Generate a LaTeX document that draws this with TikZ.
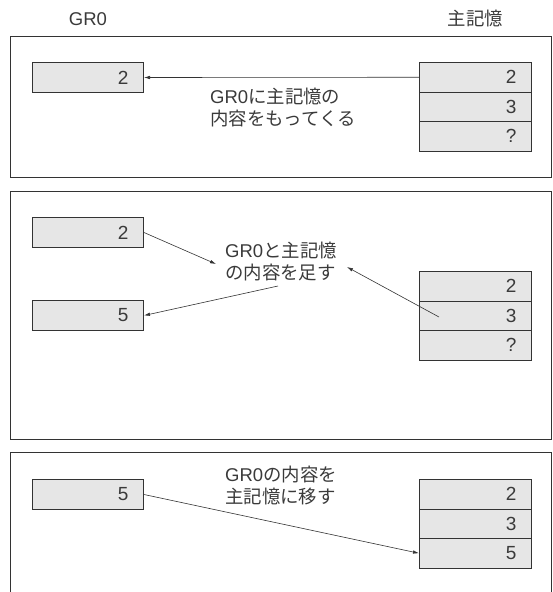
\documentclass[tikz,border=0pt]{standalone}
\usepackage{fontspec}
\setmainfont{Liberation Sans}
\newfontfamily\jpf{Noto Sans CJK JP}
\usetikzlibrary{arrows.meta}
\definecolor{ln}{HTML}{333333}
\definecolor{tx}{HTML}{3A3A3A}
\definecolor{cellfill}{HTML}{E6E6E6}
\newcommand{\latn}[1]{{\rmfamily\fontsize{18.5}{22}\selectfont #1}}
\begin{document}
\begin{tikzpicture}[x=1pt,y=-1pt,
  panel/.style={draw=ln, line width=0.9pt},
  reg/.style={draw=ln, fill=cellfill, line width=1pt, minimum width=111pt,
    minimum height=30pt, inner xsep=15pt, inner ysep=0pt, text width=81pt,
    align=right, anchor=north west, text=tx, font=\rmfamily\fontsize{19}{22}\selectfont},
  mem/.style={reg, minimum width=112pt, minimum height=29.5pt, text width=82pt},
  lbl/.style={text=tx, inner sep=0pt},
  note/.style={text=tx, inner sep=0pt, align=left, anchor=north west,
    font=\jpf\fontsize{18.4}{22}\selectfont},
  arr/.style={draw=ln, line width=0.6pt, -{Latex[length=6pt,width=3.5pt]}}]
\clip (0,0) rectangle (552,592);
% headers
\node[lbl, font=\rmfamily\fontsize{18.5}{22}\selectfont] (hg) at (88,19.5) {GR0};
\node[lbl, font=\jpf\fontsize{18.4}{22}\selectfont] (hm) at (475.5,18) {主記憶};
% panel 1
\draw[panel] (10,36) rectangle (551,177);
\node[reg] (r1) at (32,62) {2};
\node[mem] (m1a) at (419,62) {2};
\node[mem] (m1b) at (419,91.5) {3};
\node[mem] (m1c) at (419,121) {?};
\node[note] (t1) at (210,88) {\latn{GR0}に主記憶の\\内容をもってくる};
\draw[arr] (m1a.west) -- (r1.east);
% panel 2
\draw[panel] (10,191) rectangle (551,439);
\node[reg] (r2) at (32,217) {2};
\node[reg] (r5) at (32,300) {5};
\node[mem] (m2a) at (419,271) {2};
\node[mem] (m2b) at (419,300.5) {3};
\node[mem] (m2c) at (419,330) {?};
\node[note] (t2) at (225,242) {\latn{GR0}と主記憶\\の内容を足す};
\coordinate (p2a) at (216,264);
\coordinate (p2b) at (278,286);
\coordinate (p2c) at (347,267);
\coordinate (s2) at (439,317);
\draw[arr] (r2.east) -- (p2a);
\draw[arr] (p2b) -- (r5.east);
\draw[arr] (s2) -- (p2c);
% panel 3
\draw[panel] (10,452) rectangle (551,610);
\node[reg] (r3) at (32,479) {5};
\node[mem] (m3a) at (419,479) {2};
\node[mem] (m3b) at (419,508.5) {3};
\node[mem] (m3c) at (419,538) {5};
\node[note] (t3) at (225,466) {\latn{GR0}の内容を\\主記憶に移す};
\draw[arr] (r3.east) -- (m3c.west);
\end{tikzpicture}
\end{document}
